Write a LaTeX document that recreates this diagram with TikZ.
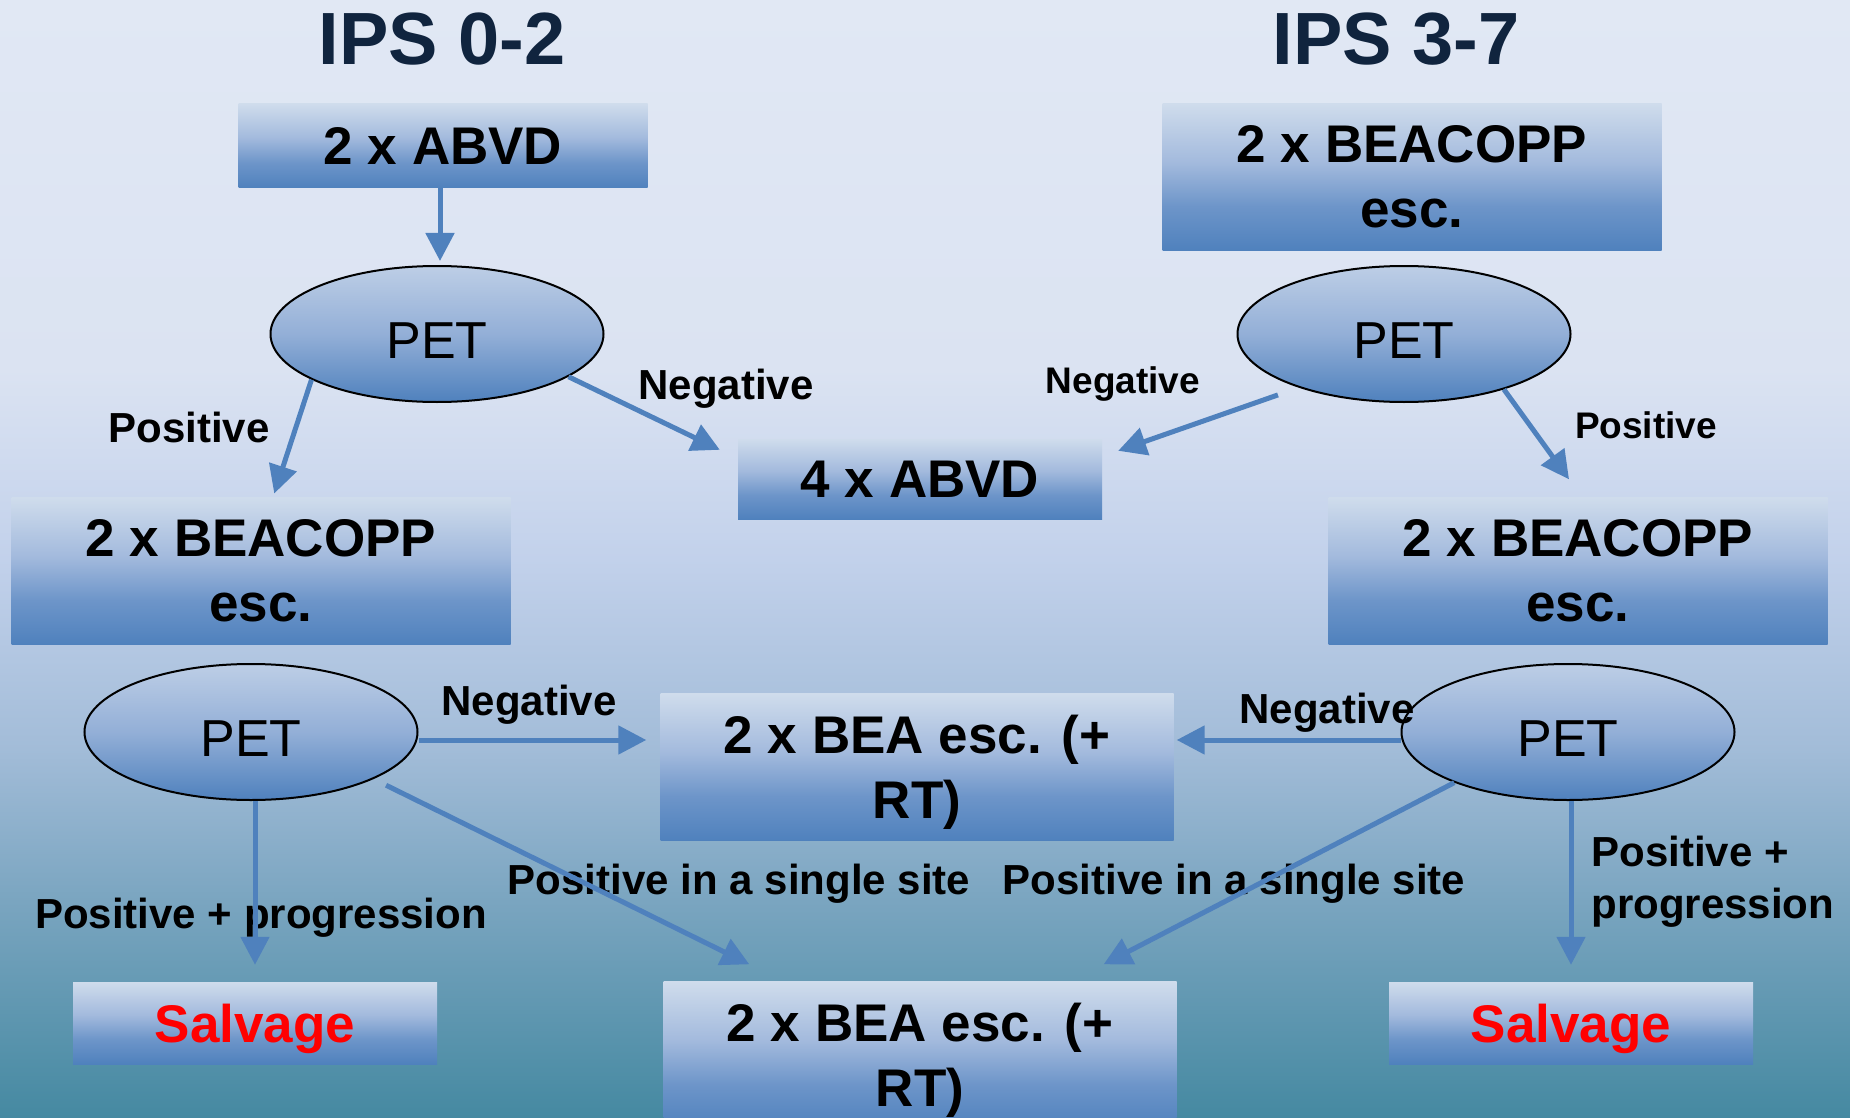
\documentclass[tikz,border=0pt]{standalone}
\usepackage{fontspec}
\setmainfont{Liberation Sans}
\usepackage{tikz}
\usetikzlibrary{arrows.meta}
\usetikzlibrary{shapes.geometric,positioning}

\definecolor{titlenavy}{HTML}{10243E}
\definecolor{flowblue}{HTML}{4F81BD}
\definecolor{salvred}{HTML}{FF0000}
\definecolor{bgA}{HTML}{E1E8F4}
\definecolor{bgB}{HTML}{DBE3F2}
\definecolor{bgC}{HTML}{C2D1EB}
\definecolor{bgD}{HTML}{A2BCD8}
\definecolor{bgE}{HTML}{7AA5C0}
\definecolor{bgF}{HTML}{4589A1}
\definecolor{boxtop}{HTML}{CFDCEC}
\definecolor{boxmid}{HTML}{A3BADD}
\definecolor{boxlow}{HTML}{6D95C9}
\definecolor{pettop}{HTML}{BDCEE6}
\definecolor{petmid}{HTML}{93AFD7}

\pgfdeclareverticalshading{bgshade}{100bp}{color(0bp)=(bgF); color(25bp)=(bgF);
  color(34.7bp)=(bgE); color(41.5bp)=(bgD); color(50bp)=(bgC); color(58.5bp)=(bgB);
  color(75bp)=(bgA); color(100bp)=(bgA)}
\pgfdeclareverticalshading{boxshade}{100bp}{color(0bp)=(flowblue); color(25bp)=(flowblue);
  color(40bp)=(boxlow); color(55bp)=(boxmid); color(75bp)=(boxtop); color(100bp)=(boxtop)}
\pgfdeclareverticalshading{petshade}{100bp}{color(0bp)=(flowblue); color(25bp)=(flowblue);
  color(50bp)=(petmid); color(75bp)=(pettop); color(100bp)=(pettop)}

\tikzset{
  therapy/.style={rectangle, shading=boxshade, inner sep=0pt, align=center,
    font=\bfseries\fontsize{53}{65}\selectfont},
  petnode/.style={ellipse, shading=petshade, draw=black, line width=2pt,
    minimum width=333pt, minimum height=136pt, inner sep=0pt,
    text height=49pt, text depth=0pt,
    font=\fontsize{52}{62}\selectfont},
  arm/.style={font=\bfseries\fontsize{42}{52}\selectfont},
  armsmall/.style={font=\bfseries\fontsize{37}{45}\selectfont},
  flow/.style={draw=flowblue, line width=5pt, -{Triangle[length=28pt,width=28pt]}}
}

\begin{document}
\begin{tikzpicture}[x=1pt,y=-1pt]
  \useasboundingbox (0,0) rectangle (1850,1118);
  \fill[shading=bgshade] (0,0) rectangle (1850,1118);

  % titles
  \node[font=\bfseries\fontsize{74}{80}\selectfont, text=titlenavy] (ipsLow) at (442,39) {IPS 0-2};
  \node[font=\bfseries\fontsize{74}{80}\selectfont, text=titlenavy] (ipsHigh) at (1396,39) {IPS 3-7};

  \begin{scope}[every node/.style={therapy}]
    \node[minimum width=409pt, minimum height=84pt] (abvdA) at (443,146) {2 x ABVD};
    \node[minimum width=499pt, minimum height=147pt] (beacoppTop) at (1412,177) {2 x BEACOPP\\esc.};
    \node[minimum width=364pt, minimum height=80pt] (abvdB) at (920,479) {4 x ABVD};
    \node[minimum width=499pt, minimum height=147pt] (beacoppL) at (261,571) {2 x BEACOPP\\esc.};
    \node[minimum width=499pt, minimum height=147pt] (beacoppR) at (1578,571) {2 x BEACOPP\\esc.};
    \node[minimum width=513pt, minimum height=147pt] (beaMid) at (917,767) {2 x BEA esc. (+\\RT\smash{)}};
    \node[minimum width=513pt, minimum height=147pt] (beaBot) at (920,1055) {2 x BEA esc. (+\\RT\smash{)}};
    \node[minimum width=364pt, minimum height=82pt, text=salvred, text depth=0pt] (salvL) at (255,1023) {Salvage};
    \node[minimum width=364pt, minimum height=82pt, text=salvred, text depth=0pt] (salvR) at (1571,1023) {Salvage};
  \end{scope}

  \begin{scope}[every node/.style={petnode}]
    \node (petA) at (437,334) {PET};
    \node (petB) at (1404,334) {PET};
    \node (petC) at (251,732) {PET};
    \node (petD) at (1568,732) {PET};
  \end{scope}

  % labels on the arms
  \node[arm] (posA) at (189,427) {Positive};
  \node[arm] (negA) at (726,389) {Negative};
  \node[armsmall] (negB) at (1123,384) {Negative};
  \node[armsmall] (posB) at (1646,425) {Positive};
  \node[arm] (negC) at (529,705) {Negative};
  \node[arm] (negD) at (1327,713) {Negative};
  \node[arm] (progA) at (261,918) {Positive + progression};
  \node[arm] (siteA) at (739,884) {Positive in a single site};
  \node[arm] (siteB) at (1234,884) {Positive in a single site};
  \node[arm, anchor=west, align=left] (progB) at (1588,882) {Positive +\\progression};

  \begin{scope}[every edge/.style={flow}]
    \path ([xshift=-3pt]abvdA.south) edge[shorten >=4pt] ([xshift=-3pt]abvdA.south |- petA.north);
    \path (petA.200) edge[shorten >=4pt] ([xshift=12pt]beacoppL.north);
    \path (petA.-18) edge ([xshift=-18pt,yshift=-11pt]abvdB.north west);
    \path (petB.207) edge[shorten <=22pt] ([xshift=16pt,yshift=-12pt]abvdB.north east);
    \path (petB.-29) edge ([xshift=-9pt,yshift=18pt]beacoppR.north);
    \path ([yshift=-8pt]petC.east) edge[shorten >=14pt] ([yshift=-8pt]petC.east -| beaMid.west);
    \path ([yshift=-8pt]petD.west) edge[shorten >=3pt] ([yshift=-8pt]petD.west -| beaMid.east);
    \path (salvL.north |- petC.south) edge[shorten >=17pt] (salvL.north);
    \path (petC.-21) edge[shorten <=14pt] ([xshift=86pt,yshift=17pt]beaBot.north west);
    \path (petD.204) edge ([xshift=-73pt,yshift=17pt]beaBot.north east);
    \path (salvR.north |- petD.south) edge[shorten >=17pt] (salvR.north);
  \end{scope}
\end{tikzpicture}
\end{document}
